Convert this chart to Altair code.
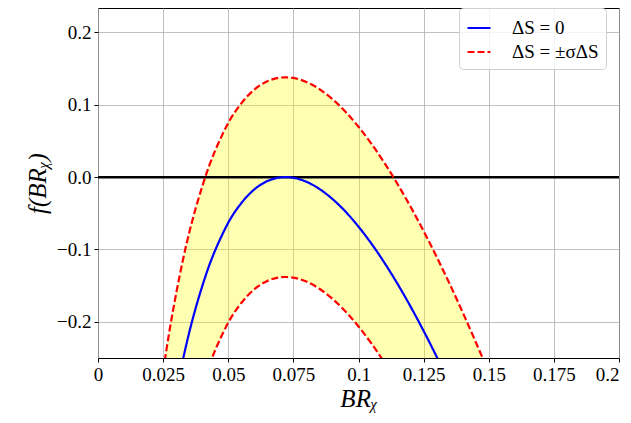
import altair as alt
import pandas as pd

# ---- data ----
bx = [0.025, 0.0275, 0.03, 0.0325, 0.035, 0.0375, 0.04, 0.0425, 0.045, 0.0475,
      0.05, 0.055, 0.06, 0.065, 0.07, 0.072, 0.075, 0.08, 0.085, 0.09, 0.095,
      0.1, 0.105, 0.11, 0.115, 0.12, 0.125, 0.13, 0.135, 0.14, 0.145, 0.15]
blue_y = [-0.406, -0.349, -0.299, -0.254, -0.215, -0.181, -0.151, -0.124, -0.101, -0.081,
          -0.063, -0.036, -0.017, -0.0055, -0.0004, 0.0, -0.0009, -0.0064, -0.0163, -0.0302, -0.0476,
          -0.0684, -0.0921, -0.1186, -0.1476, -0.179, -0.2126, -0.2482, -0.2856, -0.3249, -0.3658, -0.4082]
upper_y = [-0.268, -0.211, -0.161, -0.116, -0.077, -0.043, -0.013, 0.014, 0.037, 0.057,
           0.075, 0.102, 0.121, 0.1325, 0.1376, 0.138, 0.1371, 0.1316, 0.1217, 0.1078, 0.0904,
           0.0696, 0.0459, 0.0194, -0.0096, -0.041, -0.0746, -0.1102, -0.1476, -0.1869, -0.2278, -0.2702]
lower_y = [-0.544, -0.487, -0.437, -0.392, -0.353, -0.319, -0.289, -0.262, -0.239, -0.219,
           -0.201, -0.174, -0.155, -0.1435, -0.1384, -0.138, -0.1389, -0.1444, -0.1543, -0.1682, -0.1856,
           -0.2064, -0.2301, -0.2566, -0.2856, -0.317, -0.3506, -0.3862, -0.4236, -0.4629, -0.5038, -0.5462]
zero_line = [0.0]
x_ticks = [0, 0.025, 0.05, 0.075, 0.1, 0.125, 0.15, 0.175, 0.2]
y_ticks = [-0.2, -0.1, 0.0, 0.1, 0.2]
labels = ["ΔS = 0", "ΔS = ±σΔS"]

# ---- tables ----
rows = []
for x, b, u, l in zip(bx, blue_y, upper_y, lower_y):
    rows.append({"x": x, "y": b, "series": labels[0], "curve": "blue"})
    rows.append({"x": x, "y": u, "series": labels[1], "curve": "upper"})
    rows.append({"x": x, "y": l, "series": labels[1], "curve": "lower"})
lines_df = pd.DataFrame(rows)
band_df = pd.DataFrame({"x": bx, "lo": lower_y, "hi": upper_y})
zero_df = pd.DataFrame({"y": zero_line})

FONT = "Liberation Serif"
xs = alt.Scale(domain=[0, 0.2], nice=False, zero=False)
ys = alt.Scale(domain=[-0.25, 0.2338], nice=False, zero=False)

x_axis = alt.Axis(values=x_ticks, title="BRᵪ", grid=True,
                  labelExpr="datum.value == 0 ? '0' : format(datum.value, '.3~f')",
                  labelAlign={"condition": {"test": "datum.value >= 0.2", "value": "right"},
                              "value": "center"},
                  labelFont=FONT, labelFontSize=19, labelColor="black",
                  tickSize=4, tickColor="black", labelPadding=3, domain=False,
                  titleFont=FONT, titleFontSize=25, titleFontStyle="italic",
                  titleFontWeight="normal", titleColor="black", titlePadding=2,
                  gridColor="#b0b0b0", gridWidth=0.8, labelFlush=False)
y_axis = alt.Axis(values=y_ticks, format=".1f", title="f(BRᵪ)", grid=True,
                  labelFont=FONT, labelFontSize=19, labelColor="black",
                  tickSize=4, tickColor="black", labelPadding=3, domain=False,
                  titleFont=FONT, titleFontSize=25, titleFontStyle="italic",
                  titleFontWeight="normal", titleColor="black", titlePadding=6,
                  gridColor="#b0b0b0", gridWidth=0.8, labelFlush=False)

band = alt.Chart(band_df).mark_area(color="yellow", opacity=0.3, clip=True,
                                    interpolate="monotone").encode(
    x=alt.X("x:Q", scale=xs, axis=x_axis),
    y=alt.Y("lo:Q", scale=ys, axis=y_axis),
    y2="hi:Q",
)

zero = alt.Chart(zero_df).mark_rule(color="black", strokeWidth=2.5).encode(
    y=alt.Y("y:Q", scale=ys)
)

legend_kw = dict(title=None, orient="none", legendX=361, legendY=0,
                 symbolType="stroke", symbolSize=530,
                 symbolStrokeWidth=2.2,
                 labelFont=FONT, labelFontSize=19,
                 labelColor="black", padding=7,
                 rowPadding=1, labelOffset=20,
                 fillColor="rgba(255,255,255,0.8)",
                 strokeColor="#d0d0d0", cornerRadius=4)

lines = alt.Chart(lines_df).mark_line(strokeWidth=2.2, clip=True,
                                      interpolate="monotone").encode(
    x=alt.X("x:Q", scale=xs),
    y=alt.Y("y:Q", scale=ys),
    color=alt.Color("series:N",
                    scale=alt.Scale(domain=labels, range=["#0000ff", "#ff0000"]),
                    legend=alt.Legend(**legend_kw)),
    strokeDash=alt.StrokeDash("series:N",
                              scale=alt.Scale(domain=labels, range=[[1, 0], [7, 3]]),
                              legend=alt.Legend(**legend_kw)),
    detail="curve:N",
    order="x:Q",
)

chart = alt.layer(band, zero, lines).properties(
    width=521, height=350,
    autosize=alt.AutoSizeParams(type="none"),
    padding={"left": 90, "top": 0, "right": 4, "bottom": 57},
).configure_view(stroke="black", strokeWidth=1).configure_legend(
    labelFont=FONT, labelFontSize=19, labelColor="black"
)

chart.save("out.html", embed_options={"renderer": "svg", "actions": False})
